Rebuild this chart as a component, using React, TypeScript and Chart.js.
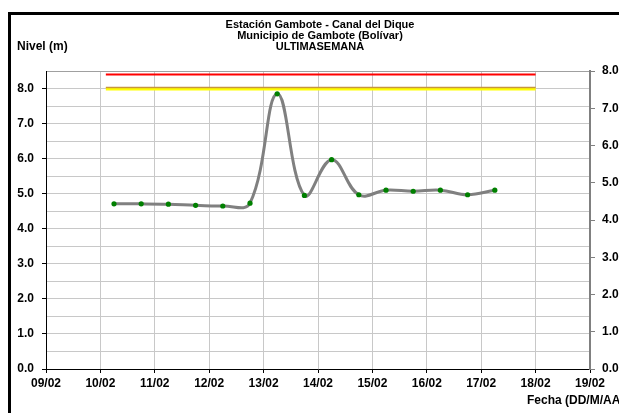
import React, { useEffect, useRef } from "react";
import { Chart, registerables } from "chart.js";

Chart.register(...registerables);

const dayLabels = ["09/02", "10/02", "11/02", "12/02", "13/02", "14/02", "15/02", "16/02", "17/02", "18/02", "19/02"];
const sampleDays = [1.25, 1.75, 2.25, 2.75, 3.25, 3.75, 4.25, 4.75, 5.25, 5.75, 6.25, 6.75, 7.25, 7.75, 8.25];
const levels = [4.71, 4.71, 4.7, 4.67, 4.65, 4.73, 7.85, 4.95, 5.97, 4.97, 5.1, 5.07, 5.1, 4.97, 5.1];
const redLevel = 8.4;
const yellowLevel = 8.0;
const thresholdDays = [1.1, 9.0];
const titleLines = ["Estación Gambote - Canal del Dique", "Municipio de Gambote (Bolívar)", "ULTIMASEMANA"];
const yTitle = "Nivel (m)";
const xTitle = "Fecha (DD/M/AAAA)";

const FONT = "Arial, 'Liberation Sans', sans-serif";

const textPlugin = {
  id: "texts",
  afterDraw(chart: any) {
    const ctx = chart.ctx;
    ctx.save();
    ctx.fillStyle = "#000";
    ctx.font = `bold 11px ${FONT}`;
    ctx.textAlign = "center";
    ctx.textBaseline = "middle";
    titleLines.forEach((t, i) => ctx.fillText(t, 320, 25 + i * 11.2));
    ctx.textAlign = "left";
    ctx.font = `bold 12px ${FONT}`;
    ctx.fillText(yTitle, 17, 47);
    ctx.fillText(xTitle, 527, 401);
    ctx.restore();
  },
};

export default function App() {
  const ref = useRef<HTMLCanvasElement>(null);
  useEffect(() => {
    const main = sampleDays.map((d, i) => ({ x: d, y: levels[i] }));
    const line = (v: number) => thresholdDays.map((d) => ({ x: d, y: v }));
    const tickFont = { family: FONT, size: 12, weight: "bold" as const };
    const chart = new Chart(ref.current!, {
      type: "line",
      data: {
        datasets: [
          {
            data: main,
            borderColor: "#808080",
            borderWidth: 3,
            tension: 0.4,
            pointRadius: 2.6,
            pointBackgroundColor: "#008000",
            pointBorderColor: "#008000",
            pointBorderWidth: 0,
            yAxisID: "y",
          },
          { data: line(redLevel), borderColor: "#ff0000", borderWidth: 2, pointRadius: 0, yAxisID: "y" },
          { data: line(yellowLevel + 0.03), borderColor: "#c8963c", borderWidth: 1.5, pointRadius: 0, yAxisID: "y" },
          { data: line(yellowLevel - 0.015), borderColor: "#ffff00", borderWidth: 3, pointRadius: 0, yAxisID: "y" },
        ],
      },
      options: {
        animation: false,
        responsive: false,
        maintainAspectRatio: false,
        layout: { padding: { top: 71, left: 0, right: 0, bottom: 0 } },
        plugins: { legend: { display: false }, title: { display: false }, tooltip: { enabled: false } },
        scales: {
          x: {
            type: "linear",
            min: 0,
            max: 10,
            afterFit: (s: any) => { s.height = 44; },
            afterBuildTicks: (s: any) => { s.ticks = dayLabels.map((_, i) => ({ value: i })); },
            ticks: {
              autoSkip: false,
              maxRotation: 0,
              padding: 3,
              color: "#000",
              font: tickFont,
              callback: (v: any) => dayLabels[Math.round(Number(v))] ?? "",
            },
            grid: { color: "#c8c8c8", lineWidth: 1, tickLength: 4, tickColor: "#000" },
            border: { color: "#000", width: 1 },
          },
          y: {
            position: "left",
            min: 0,
            max: 8.5,
            afterFit: (s: any) => { s.width = 46; },
            afterBuildTicks: (s: any) => {
              const t: any[] = [];
              for (let i = 0; i <= 17; i++) t.push({ value: i * 0.5 });
              s.ticks = t;
            },
            ticks: {
              autoSkip: false,
              padding: 8,
              color: "#000",
              font: tickFont,
              callback: (v: any) => (Math.abs(Number(v) % 1) < 1e-6 && Number(v) <= 8 ? Number(v).toFixed(1) : ""),
            },
            grid: {
              color: (c: any) => (c.tick && c.tick.value >= 8.5 ? "#a0a0a0" : "#c8c8c8"),
              lineWidth: 1,
              tickLength: 4,
              tickColor: (c: any) => (c.tick && Math.abs(c.tick.value % 1) < 1e-6 ? "#000" : "rgba(0,0,0,0)"),
            },
            border: { color: "#000", width: 1 },
          },
          y2: {
            position: "right",
            min: 0,
            max: 8,
            afterFit: (s: any) => { s.width = 29; },
            afterBuildTicks: (s: any) => {
              const t: any[] = [];
              for (let i = 0; i <= 8; i++) t.push({ value: i });
              s.ticks = t;
            },
            ticks: {
              autoSkip: false,
              padding: 7,
              color: "#000",
              font: tickFont,
              callback: (v: any) => Number(v).toFixed(1),
            },
            grid: { drawOnChartArea: false, tickLength: 5, tickColor: "#808080", lineWidth: 1 },
            border: { color: "#808080", width: 2 },
          },
        },
      },
      plugins: [textPlugin],
    });
    return () => chart.destroy();
  }, []);

  return (
    <div style={{ position: "fixed", left: 0, top: 0, width: 619, height: 413, overflow: "hidden", background: "#fff" }}>
      <div
        style={{
          position: "absolute",
          left: 8,
          top: 12,
          width: 660,
          height: 440,
          border: "3px solid #000",
          boxSizing: "border-box",
        }}
      />
      <canvas ref={ref} width={619} height={413} style={{ position: "absolute", left: 0, top: 0, width: 619, height: 413 }} />
    </div>
  );
}
